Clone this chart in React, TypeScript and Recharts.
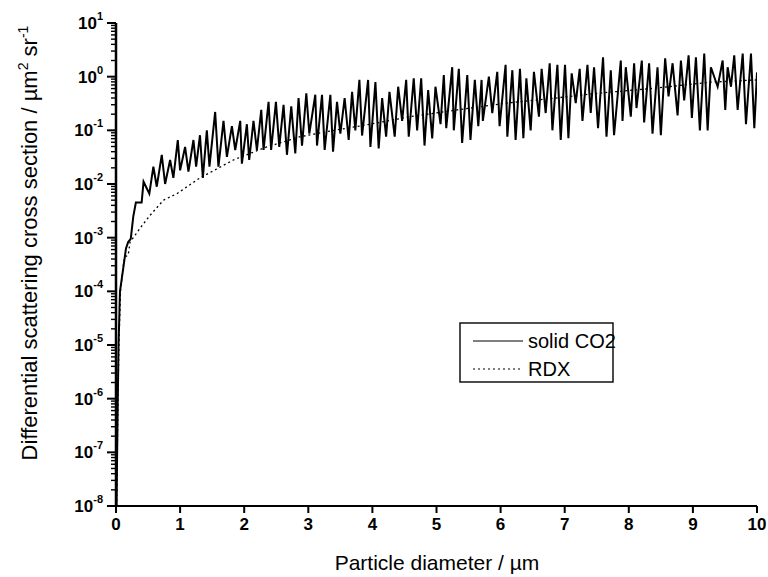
import React from 'react'
import { LineChart, Line, XAxis, YAxis } from 'recharts'

const font = '"Liberation Sans", Arial, Helvetica, sans-serif'

// particle diameter (µm) / cross section (µm² sr⁻¹)
const co2X = [
  0.008, 0.018, 0.028, 0.04, 0.062, 0.115, 0.156, 0.19, 0.23, 0.27, 0.31, 0.4,
  0.43, 0.52, 0.583, 0.636, 0.714, 0.766, 0.844, 0.895, 0.964, 1.0, 1.078, 1.13,
  1.208, 1.25, 1.31, 1.355, 1.417, 1.458, 1.547, 1.598, 1.677, 1.73, 1.808, 1.86,
  1.938, 1.964, 2.042, 2.078, 2.145, 2.198, 2.266, 2.302, 2.38, 2.42, 2.495, 2.547,
  2.614, 2.667, 2.734, 2.797, 2.848, 2.902, 2.969, 3.016, 3.109, 3.136, 3.214, 3.255,
  3.344, 3.386, 3.448, 3.5, 3.567, 3.63, 3.683, 3.734, 3.797, 3.839, 3.933, 3.969,
  4.047, 4.098, 4.152, 4.214, 4.266, 4.348, 4.402, 4.464, 4.527, 4.567, 4.645, 4.698,
  4.761, 4.813, 4.87, 4.933, 4.984, 5.063, 5.114, 5.152, 5.245, 5.27, 5.348, 5.4,
  5.48, 5.53, 5.598, 5.652, 5.703, 5.723, 5.817, 5.87, 5.948, 5.984, 6.078, 6.105,
  6.183, 6.234, 6.302, 6.355, 6.402, 6.469, 6.52, 6.598, 6.64, 6.703, 6.766, 6.808,
  6.886, 6.938, 7.005, 7.058, 7.109, 7.172, 7.234, 7.277, 7.355, 7.406, 7.458, 7.52,
  7.598, 7.652, 7.719, 7.77, 7.875, 7.902, 7.953, 8.031, 8.083, 8.12, 8.203, 8.239,
  8.317, 8.37, 8.448, 8.5, 8.567, 8.62, 8.683, 8.761, 8.813, 8.864, 8.933, 8.984,
  9.047, 9.109, 9.177, 9.23, 9.281, 9.386, 9.464, 9.505, 9.542, 9.594, 9.645, 9.698,
  9.777, 9.828, 9.906, 9.958, 10.0,
]
const co2Y = [
  1e-8, 1e-7, 1e-6, 1e-5, 1e-4, 2.8e-4, 6.3e-4, 8.3e-4, 9.5e-4, 2.5e-3, 4.5e-3, 4.5e-3,
  0.011, 0.0066, 0.021, 0.0089, 0.035, 0.01, 0.028, 0.013, 0.066, 0.018, 0.049, 0.017,
  0.066, 0.021, 0.081, 0.013, 0.1, 0.021, 0.22, 0.021, 0.15, 0.032, 0.12, 0.043,
  0.15, 0.024, 0.13, 0.028, 0.15, 0.043, 0.24, 0.043, 0.34, 0.043, 0.34, 0.049,
  0.3, 0.035, 0.28, 0.037, 0.4, 0.052, 0.49, 0.087, 0.46, 0.052, 0.46, 0.043,
  0.46, 0.04, 0.34, 0.087, 0.4, 0.066, 0.52, 0.1, 0.87, 0.08, 0.87, 0.049,
  0.79, 0.046, 0.4, 0.076, 0.52, 0.076, 0.65, 0.15, 0.87, 0.076, 0.93, 0.1,
  0.93, 0.052, 0.56, 0.071, 0.65, 0.13, 1.07, 0.11, 1.5, 0.1, 1.4, 0.058,
  1.07, 0.066, 0.87, 0.12, 0.87, 0.15, 1.0, 0.21, 1.23, 0.12, 1.66, 0.076,
  1.32, 0.066, 1.4, 0.071, 0.93, 0.1, 1.23, 0.18, 1.4, 0.21, 1.78, 0.1,
  1.66, 0.066, 1.66, 0.071, 1.15, 0.32, 1.4, 0.15, 1.66, 0.21, 1.5, 0.11,
  2.3, 0.076, 1.32, 0.081, 2.0, 0.15, 1.5, 0.18, 1.78, 0.26, 2.0, 0.14,
  1.78, 0.087, 1.5, 0.081, 2.2, 0.43, 1.78, 0.19, 2.0, 0.36, 2.5, 0.17,
  2.3, 0.1, 2.7, 0.1, 1.5, 0.65, 2.0, 0.24, 1.5, 0.65, 2.5, 0.24,
  2.7, 0.13, 2.7, 0.11, 1.2,
]

const rdxX = [
  0.01, 0.02, 0.03, 0.045, 0.07, 0.12, 0.14, 0.19, 0.22, 0.27, 0.375, 0.53,
  0.74, 0.95, 1.31, 1.57, 1.83, 2.35, 2.875, 3.4, 3.97, 4.59, 5.32, 6.08,
  6.78, 7.51, 8.34, 9.28, 10.0,
]
const rdxY = [
  1e-8, 1e-7, 1e-6, 1e-5, 1e-4, 3.5e-4, 4.4e-4, 4.7e-4, 8.3e-4, 1.0e-3, 1.5e-3, 2.6e-3,
  5.0e-3, 6.6e-3, 0.013, 0.019, 0.028, 0.049, 0.076, 0.1, 0.13, 0.18, 0.24, 0.32,
  0.39, 0.49, 0.6, 0.79, 0.87,
]

const xTicks = [0, 1, 2, 3, 4, 5, 6, 7, 8, 9, 10]
const yExponents = [-8, -7, -6, -5, -4, -3, -2, -1, 0, 1]

const yTicks: number[] = []
yExponents.forEach((e) => {
  if (e === 1) {
    yTicks.push(10)
    return
  }
  for (let m = 1; m <= 9; m++) yTicks.push(m * Math.pow(10, e))
})

const co2 = co2X.map((x, i) => ({ x, y: co2Y[i] }))
const rdx = rdxX.map((x, i) => ({ x, y: rdxY[i] }))

function YTick({ x, y, payload }: any) {
  const e = Math.log10(payload.value)
  const major = Math.abs(e - Math.round(e)) < 1e-6
  if (!major) {
    return <line x1={x - 5} x2={x} y1={y} y2={y} stroke="#000" strokeWidth={1.4} />
  }
  return (
    <g>
      <line x1={x - 9} x2={x} y1={y} y2={y} stroke="#000" strokeWidth={2} />
      <text x={x - 13} y={y} dy={6} textAnchor="end" fontSize={17} fontWeight="bold" fontFamily={font} fill="#000">
        10<tspan dy={-9} fontSize={11}>{Math.round(e)}</tspan>
      </text>
    </g>
  )
}

export default function App() {
  return (
    <div style={{ position: 'absolute', left: 0, top: 0, width: 768, height: 577, background: '#fff' }}>
      <LineChart width={768} height={577} margin={{ top: 23, right: 11, left: 0, bottom: 0 }}>
        <XAxis
          type="number"
          dataKey="x"
          domain={[0, 10]}
          ticks={xTicks}
          allowDataOverflow
          height={71}
          tickSize={7}
          tickMargin={5}
          axisLine={{ stroke: '#000', strokeWidth: 2 }}
          tickLine={{ stroke: '#000', strokeWidth: 2 }}
          tick={{ fill: '#000', fontSize: 17, fontWeight: 'bold', fontFamily: font }}
        />
        <YAxis
          type="number"
          dataKey="y"
          scale="log"
          domain={[1e-8, 10]}
          ticks={yTicks}
          interval={0}
          allowDataOverflow
          width={116}
          tickSize={0}
          tickMargin={0}
          tickLine={false}
          axisLine={{ stroke: '#000', strokeWidth: 2.5 }}
          tick={<YTick />}
        />
        <Line
          data={rdx}
          dataKey="y"
          type="linear"
          stroke="#000"
          strokeWidth={1.3}
          strokeDasharray="2 3"
          dot={false}
          isAnimationActive={false}
        />
        <Line
          data={co2}
          dataKey="y"
          type="linear"
          stroke="#000"
          strokeWidth={2}
          dot={false}
          isAnimationActive={false}
        />
      </LineChart>
      <svg width={768} height={577} style={{ position: 'absolute', left: 0, top: 0, pointerEvents: 'none' }}>
        <text
          x={37}
          y={243}
          transform="rotate(-90 37 243)"
          textAnchor="middle"
          fontSize={22}
          fontFamily={font}
          fill="#000"
        >
          Differential scattering cross section / µm<tspan dy={-9} fontSize={14}>2</tspan>
          <tspan dy={9}> sr</tspan>
          <tspan dy={-9} fontSize={14}>-1</tspan>
        </text>
        <text x={437} y={570} textAnchor="middle" fontSize={21} fontFamily={font} fill="#000">
          Particle diameter / µm
        </text>
        <rect x={460} y={323} width={153} height={59} fill="#fff" stroke="#000" strokeWidth={1.4} />
        <line x1={473} x2={523} y1={341} y2={341} stroke="#000" strokeWidth={1.2} />
        <text x={528} y={348} fontSize={20} fontFamily={font} fill="#000">solid CO2</text>
        <line x1={473} x2={523} y1={369} y2={369} stroke="#000" strokeWidth={1.2} strokeDasharray="2 3" />
        <text x={528} y={376} fontSize={20} fontFamily={font} fill="#000">RDX</text>
      </svg>
    </div>
  )
}
